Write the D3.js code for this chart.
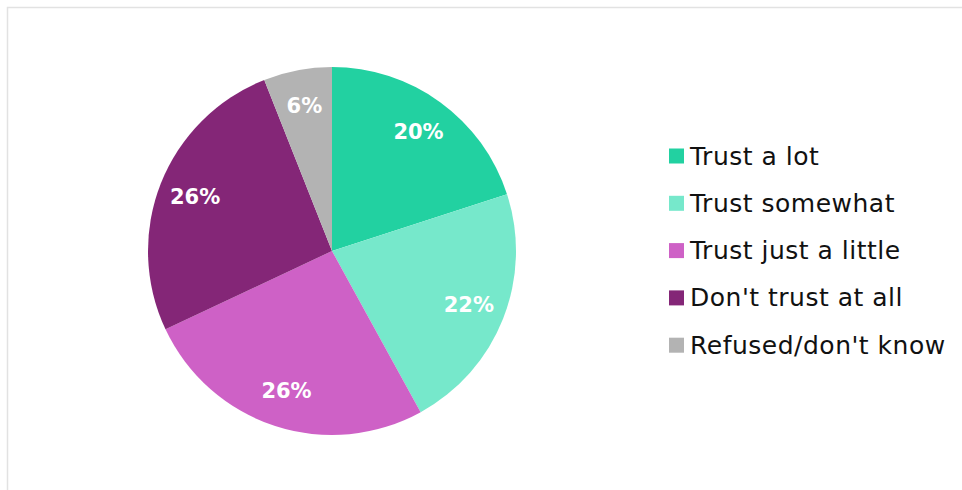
<!DOCTYPE html>
<html><head><meta charset="utf-8">
<script src="https://cdn.jsdelivr.net/npm/d3@7"></script>
<style>html,body{margin:0;padding:0;background:#fff;overflow:hidden}</style>
</head><body>
<svg id="chart" width="962" height="490"></svg>
<script>
const categories = ["Trust a lot", "Trust somewhat", "Trust just a little", "Don't trust at all", "Refused/don't know"];
const values = [20, 22, 26, 26, 6];
const labels = ["20%", "22%", "26%", "26%", "6%"];
const colors = ["#22D1A1", "#76E8CB", "#CE61C6", "#842677", "#B3B3B3"];

const svg = d3.select("#chart");
svg.append("rect").attr("x", 7.5).attr("y", 7.5).attr("width", 980).attr("height", 500)
  .attr("fill", "#fff").attr("stroke", "#e2e2e2").attr("stroke-width", 1.5);

const cx = 332, cy = 251, R = 184;
const data = categories.map((c, i) => ({cat: c, value: values[i], label: labels[i], color: colors[i]}));
const pie = d3.pie().value(d => d.value).sort(null);
const arcs = pie(data);
const arc = d3.arc().innerRadius(0).outerRadius(R);
const labelArc = d3.arc().innerRadius(R * 0.8).outerRadius(R * 0.8);

const g = svg.append("g").attr("transform", `translate(${cx},${cy})`);
g.selectAll("path").data(arcs).join("path")
  .attr("d", arc).attr("fill", d => d.data.color);
g.selectAll("text").data(arcs).join("text")
  .attr("transform", d => `translate(${labelArc.centroid(d)})`)
  .attr("text-anchor", "middle").attr("dominant-baseline", "central")
  .attr("font-family", "'DejaVu Sans', sans-serif").attr("font-weight", "bold")
  .attr("font-size", 21).attr("fill", "#fff")
  .text(d => d.data.label);

const lg = svg.append("g").attr("transform", "translate(669,156)");
const rows = lg.selectAll("g").data(data).join("g")
  .attr("transform", (d, i) => `translate(0,${i * 47.3})`);
rows.append("rect").attr("x", 0).attr("y", -7.5).attr("width", 15).attr("height", 15)
  .attr("fill", d => d.color);
rows.append("text").attr("x", 21).attr("y", 0).attr("dominant-baseline", "central")
  .attr("font-family", "'DejaVu Sans', sans-serif").attr("font-size", 25)
  .attr("letter-spacing", 0.5).attr("fill", "#111")
  .text(d => d.cat);
</script>
</body></html>
